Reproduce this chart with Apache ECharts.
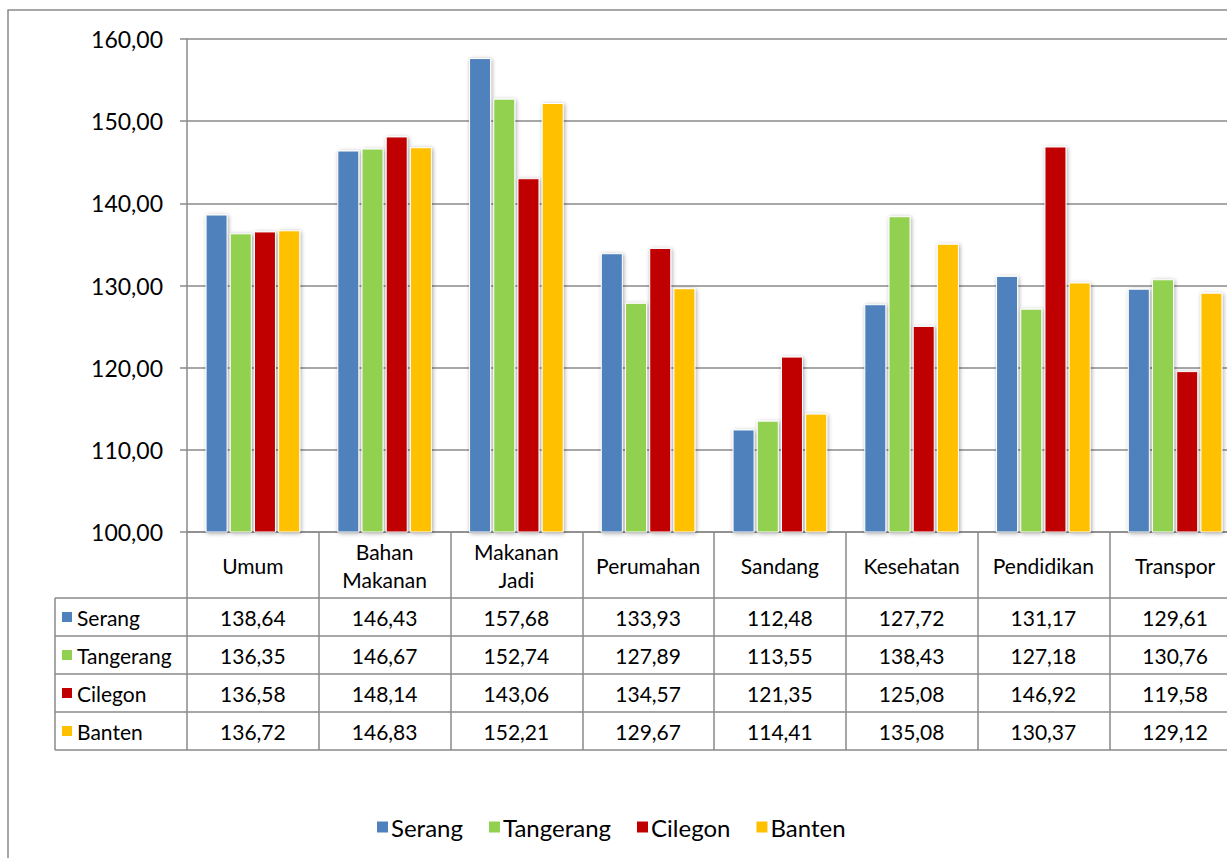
<!DOCTYPE html>
<html><head><meta charset="utf-8">
<script src="https://cdn.jsdelivr.net/npm/echarts@6/dist/echarts.min.js"></script>
<style>html,body{margin:0;padding:0;background:#fff}#c{width:1227px;height:858px}</style>
</head><body><div id="c"></div>
<script>
var categories = ['Umum','Bahan Makanan','Makanan Jadi','Perumahan','Sandang','Kesehatan','Pendidikan','Transpor'];
var seriesNames = ['Serang','Tangerang','Cilegon','Banten'];
var serang    = [138.64,146.43,157.68,133.93,112.48,127.72,131.17,129.61];
var tangerang = [136.35,146.67,152.74,127.89,113.55,138.43,127.18,130.76];
var cilegon   = [136.58,148.14,143.06,134.57,121.35,125.08,146.92,119.58];
var banten    = [136.72,146.83,152.21,129.67,114.41,135.08,130.37,129.12];
var yTicks = {min:100, max:160, interval:10};
var colors = ['#4F81BD','#92D050','#C00000','#FFC000'];
var values = [serang, tangerang, cilegon, banten];
var FONT = 'Lato';
var GRID = '#8a8a8a';
var ROW = 38, HEAD = 66;

var chart = echarts.init(document.getElementById('c'), null, {renderer:'svg'});
function fmt(v){ return v.toFixed(2).replace('.', ','); }

var series = seriesNames.map(function(n,i){
  return {
    name:n, type:'bar', data: values[i], barWidth:22, barGap:'10%',
    itemStyle:{color:colors[i], borderColor:'#fff', borderWidth:1,
      shadowBlur:4, shadowColor:'rgba(0,0,0,0.35)', shadowOffsetX:1, shadowOffsetY:1},
    emphasis:{disabled:true}
  };
});

chart.setOption({
  animation:false,
  textStyle:{fontFamily:FONT},
  grid:{left:187, width:1054, top:39, height:493, containLabel:false, outerBoundsMode:'none'},
  legend:{
    data: seriesNames.map(function(n,i){return {name:n, itemStyle:{color:colors[i], borderWidth:0, shadowBlur:0}};}),
    left:372, top:810, itemWidth:11, itemHeight:11, itemGap:26, icon:'rect',
    textStyle:{fontFamily:FONT, fontSize:24, color:'#000', padding:[0,0,0,-2]}
  },
  xAxis:{
    type:'category', data:categories,
    axisLine:{show:true, lineStyle:{color:GRID, width:1.5}},
    axisTick:{show:true, length:218, lineStyle:{color:GRID, width:1.5}},
    axisLabel:{fontFamily:FONT, fontSize:21, color:'#000', margin:33, verticalAlign:'middle', lineHeight:28,
      interval:0, formatter:function(v){ return v.replace(' ', '\n'); }}
  },
  yAxis:{
    type:'value', min:yTicks.min, max:yTicks.max, interval:yTicks.interval,
    axisLine:{show:true, lineStyle:{color:GRID, width:1.5}},
    axisTick:{show:true, length:7, lineStyle:{color:GRID, width:1.5}},
    splitLine:{show:true, lineStyle:{color:GRID, width:1.5}},
    axisLabel:{fontFamily:FONT, fontSize:23, color:'#000', margin:24, formatter:function(v){return fmt(v);}}
  },
  series: series
});

var x0 = chart.convertToPixel({xAxisIndex:0}, 0);
var x1 = chart.convertToPixel({xAxisIndex:0}, 1);
var cw = x1 - x0;
var axisY = chart.convertToPixel({yAxisIndex:0}, yTicks.min);
var gridLeft = x0 - cw/2;
var gridRight = gridLeft + cw*categories.length;
var tableLeft = 55;
var els = [];
els.push({type:'rect', shape:{x:8, y:10, width:1300, height:1000}, style:{fill:'none', stroke:'#8a8a8a', lineWidth:1.5}, silent:true});
var top0 = axisY + HEAD;
for (var r=0; r<=seriesNames.length; r++){
  var yy = top0 + r*ROW;
  els.push({type:'line', shape:{x1:tableLeft, y1:yy, x2:gridRight, y2:yy}, style:{stroke:GRID, lineWidth:1.5}, silent:true});
}
els.push({type:'line', shape:{x1:tableLeft, y1:top0, x2:tableLeft, y2:top0+ROW*seriesNames.length}, style:{stroke:GRID, lineWidth:1.5}, silent:true});
seriesNames.forEach(function(n,r){
  var cy = top0 + r*ROW + ROW/2;
  els.push({type:'rect', shape:{x:62, y:cy-5, width:10, height:10}, style:{fill:colors[r]}, silent:true});
  els.push({type:'text', x:77, y:cy, style:{text:n, font:'21px '+FONT, fill:'#000', textVerticalAlign:'middle', textAlign:'left'}, silent:true});
  values[r].forEach(function(v,c){
    var cx = chart.convertToPixel({xAxisIndex:0}, c);
    els.push({type:'text', x:cx, y:cy, style:{text:fmt(v), font:'21px '+FONT, fill:'#000', textVerticalAlign:'middle', textAlign:'center'}, silent:true});
  });
});
chart.setOption({graphic:{elements:els}});
</script>
</body></html>
